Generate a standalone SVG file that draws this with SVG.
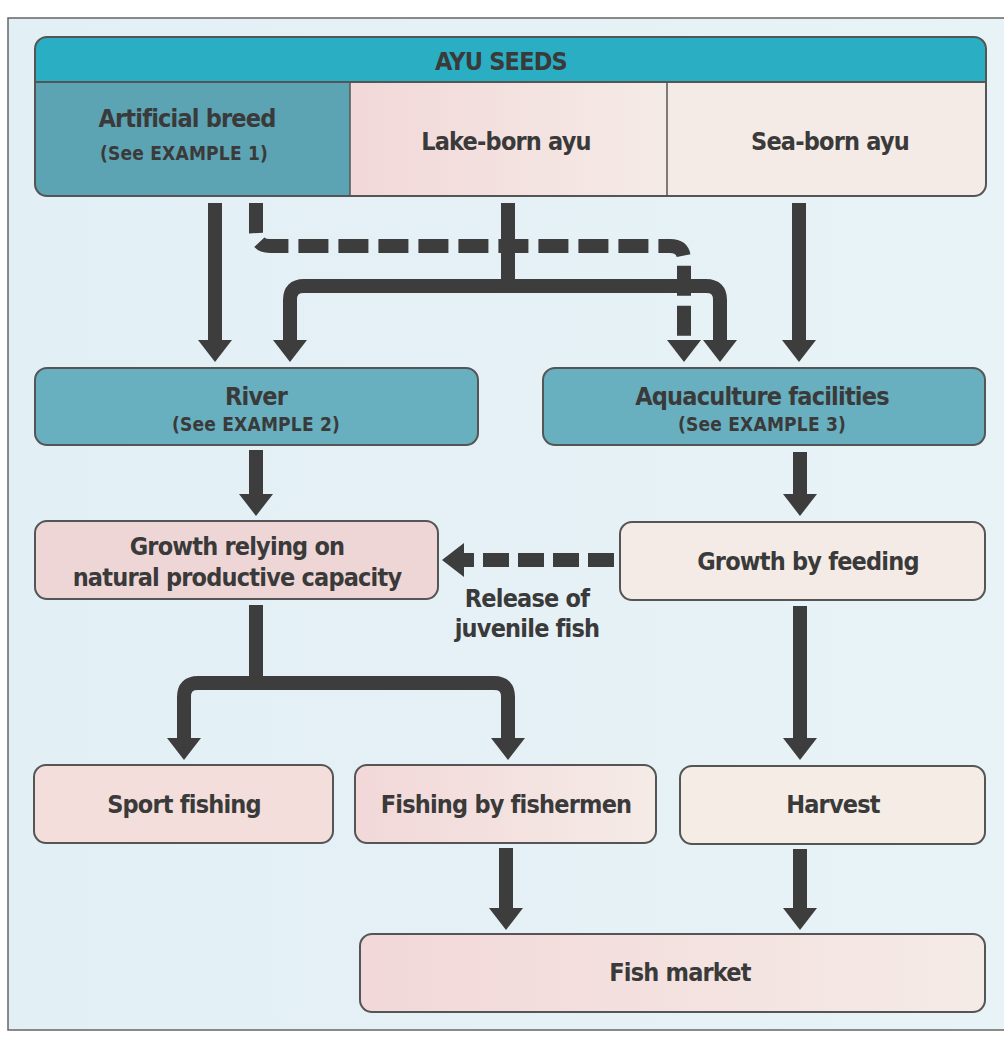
<svg xmlns="http://www.w3.org/2000/svg" width="1004" height="1038" viewBox="0 0 1004 1038">
<style>
.t{font-family:"Liberation Sans Narrow","DejaVu Sans Condensed","Liberation Sans",sans-serif;font-weight:bold;fill:#3a3a3a;text-anchor:middle}
.big{font-size:25px;letter-spacing:-0.8px}
.sm{font-size:19px;letter-spacing:0.2px}
.box{stroke:#555;stroke-width:2}
.ln{fill:none;stroke:#3d3d3d;stroke-width:14;stroke-linejoin:round}
.dash{fill:none;stroke:#3d3d3d;stroke-width:14;stroke-dasharray:30 10}
.hd{fill:#3d3d3d}
</style>
<defs>
<linearGradient id="pk" x1="0" x2="1"><stop offset="0" stop-color="#f2d8d8"/><stop offset="1" stop-color="#f5ebe6"/></linearGradient>
<linearGradient id="bg" x1="0" x2="1"><stop offset="0" stop-color="#e2eff4"/><stop offset="1" stop-color="#e8f3f7"/></linearGradient>
</defs>
<rect x="0" y="0" width="1004" height="1038" fill="#ffffff"/>
<rect x="8" y="18" width="1000" height="1012" fill="url(#bg)" stroke="#666" stroke-width="1.5"/>

<g id="ayu-seeds">
<path d="M47 37 H974 Q986 37 986 49 V82 H35 V49 Q35 37 47 37 Z" fill="#2aaec3"/>
<path d="M35 82 H350 V196 H47 Q35 196 35 184 Z" fill="#5ca3b3"/>
<rect x="350" y="82" width="317" height="114" fill="url(#pk)"/>
<path d="M667 82 H986 V184 Q986 196 974 196 H667 Z" fill="#f4ebe6"/>
<rect x="35" y="37" width="951" height="159" rx="12" fill="none" class="box"/>
<line x1="35" y1="82" x2="986" y2="82" stroke="#555" stroke-width="2"/>
<line x1="350" y1="82" x2="350" y2="196" stroke="#555" stroke-width="1.5"/>
<line x1="667" y1="82" x2="667" y2="196" stroke="#555" stroke-width="1.5"/>
<text class="t big" x="501" y="70">AYU SEEDS</text>
<text class="t big" x="187" y="127">Artificial breed</text>
<text class="t sm" x="184" y="160">(See EXAMPLE 1)</text>
<text class="t big" x="506" y="150">Lake-born ayu</text>
<text class="t big" x="830" y="150">Sea-born ayu</text>
</g>

<g id="river">
<rect x="35" y="368" width="443" height="77" rx="12" fill="#68afbf" class="box"/>
<text class="t big" x="256" y="405">River</text>
<text class="t sm" x="256" y="431">(See EXAMPLE 2)</text>
</g>
<g id="aquaculture">
<rect x="543" y="368" width="442" height="77" rx="12" fill="#68afbf" class="box"/>
<text class="t big" x="762" y="405">Aquaculture facilities</text>
<text class="t sm" x="762" y="431">(See EXAMPLE 3)</text>
</g>
<g id="growth-natural">
<rect x="35" y="521" width="403" height="78" rx="12" fill="#efd6d6" class="box"/>
<text class="t big" x="237" y="555">Growth relying on</text>
<text class="t big" x="237" y="586">natural productive capacity</text>
</g>
<g id="growth-feeding">
<rect x="620" y="522" width="365" height="78" rx="12" fill="#f5ebe6" class="box"/>
<text class="t big" x="808" y="570">Growth by feeding</text>
</g>
<g id="sport-fishing">
<rect x="34" y="765" width="299" height="78" rx="12" fill="#f3dedc" class="box"/>
<text class="t big" x="184" y="813">Sport fishing</text>
</g>
<g id="fishing-fishermen">
<rect x="355" y="765" width="301" height="78" rx="12" fill="url(#pk)" class="box"/>
<text class="t big" x="506" y="813">Fishing by fishermen</text>
</g>
<g id="harvest">
<rect x="680" y="766" width="305" height="78" rx="12" fill="#f5ece6" class="box"/>
<text class="t big" x="833" y="813">Harvest</text>
</g>
<g id="fish-market">
<rect x="360" y="934" width="625" height="78" rx="12" fill="url(#pk)" class="box"/>
<text class="t big" x="680" y="981">Fish market</text>
</g>

<g id="connectors">
<line x1="215" y1="203" x2="215" y2="342" class="ln"/>
<polygon points="198,340 232,340 215,362" class="hd"/>
<path d="M256 203 V232 Q256 246 270 246 H670 Q684 246 684 260 V342" class="dash"/>
<polygon points="667,340 701,340 684,362" class="hd"/>
<line x1="508" y1="203" x2="508" y2="286" class="ln"/>
<path d="M290 342 V300 Q290 286 304 286 H706 Q720 286 720 300 V342" class="ln"/>
<polygon points="273,340 307,340 290,362" class="hd"/>
<polygon points="703,340 737,340 720,362" class="hd"/>
<line x1="799" y1="203" x2="799" y2="342" class="ln"/>
<polygon points="782,340 816,340 799,362" class="hd"/>
<line x1="256" y1="450" x2="256" y2="496" class="ln"/>
<polygon points="239,494 273,494 256,516" class="hd"/>
<line x1="800" y1="452" x2="800" y2="496" class="ln"/>
<polygon points="783,494 817,494 800,516" class="hd"/>
<path d="M614 560 H462" class="dash" style="stroke-dasharray:26 9"/>
<polygon points="464,543 464,577 442,560" class="hd"/>
<text class="t big" x="527" y="607">Release of</text>
<text class="t big" x="527" y="637">juvenile fish</text>
<line x1="256" y1="605" x2="256" y2="683" class="ln"/>
<path d="M184 740 V697 Q184 683 198 683 H494 Q508 683 508 697 V740" class="ln"/>
<polygon points="167,738 201,738 184,760" class="hd"/>
<polygon points="491,738 525,738 508,760" class="hd"/>
<line x1="800" y1="606" x2="800" y2="740" class="ln"/>
<polygon points="783,738 817,738 800,760" class="hd"/>
<line x1="506" y1="848" x2="506" y2="910" class="ln"/>
<polygon points="489,908 523,908 506,930" class="hd"/>
<line x1="800" y1="849" x2="800" y2="910" class="ln"/>
<polygon points="783,908 817,908 800,930" class="hd"/>
</g>
</svg>
